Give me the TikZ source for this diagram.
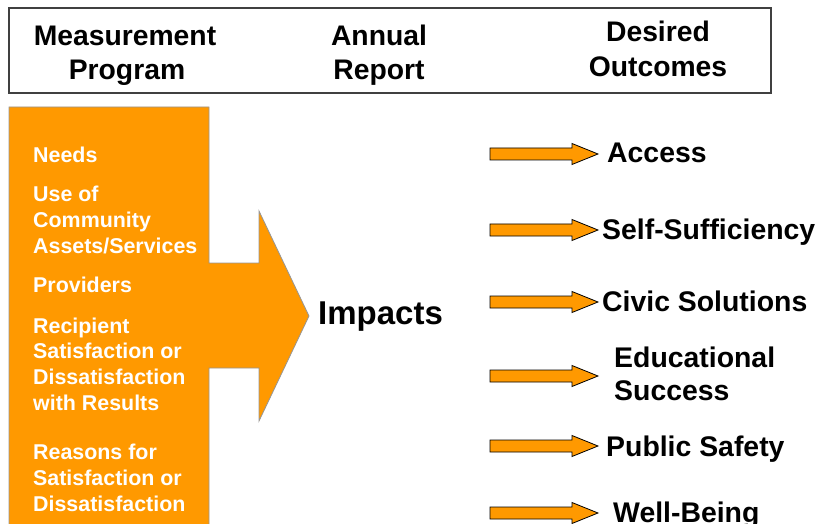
\documentclass[tikz,border=0pt]{standalone}
\usepackage{fontspec}
\setmainfont{Liberation Sans}
\definecolor{orng}{RGB}{255,153,0}
\definecolor{edgegray}{RGB}{150,150,150}
\definecolor{boxgray}{RGB}{64,64,64}
\begin{document}
\begin{tikzpicture}[x=1pt,y=-1pt,
  hdr/.style={font=\fontsize{28.3}{34}\selectfont\bfseries, anchor=base, inner sep=0},
  ol/.style={font=\fontsize{21.4}{25.5}\selectfont\bfseries, text=white, anchor=base west, inner sep=0},
  outc/.style={font=\fontsize{28.4}{33}\selectfont\bfseries, anchor=base west, inner sep=0},
  smallarrow/.style={fill=orng, draw=black, line width=0.8pt, line join=miter}]
\useasboundingbox (0,0) rectangle (820,524);
% header
\draw[boxgray, line width=1.5pt] (9,8) rectangle (771,93);
\node[hdr] (h1a) at (125,46) {Measurement};
\node[hdr] (h1b) at (127,80) {Program};
\node[hdr] (h2a) at (379,46) {Annual};
\node[hdr] (h2b) at (379,80) {Report};
\node[hdr] (h3a) at (658,42) {Desired};
\node[hdr] (h3b) at (658,77) {Outcomes};
% big orange shape
\fill[orng] (9,107) -- (209,107) -- (209,263) -- (259,263) -- (259,211) -- (309,316)
  -- (259,421) -- (259,368) -- (209,368) -- (209,524) -- (9,524) -- cycle;
\draw[edgegray, line width=0.8pt] (9,524) -- (9,107) -- (209,107) -- (209,263) -- (259,263) -- (259,211) -- (309,316)
  -- (259,421) -- (259,368) -- (209,368) -- (209,524);
\node[ol] (t1) at (33,163) {Needs};
\node[ol] (t2a) at (33,202) {Use of};
\node[ol] (t2b) at (33,228) {Community};
\node[ol] (t2c) at (33,253) {Assets/Services};
\node[ol] (t3) at (33,292) {Providers};
\node[ol] (t4a) at (33,333) {Recipient};
\node[ol] (t4b) at (33,358) {Satisfaction or};
\node[ol] (t4c) at (33,384) {Dissatisfaction};
\node[ol] (t4d) at (33,410) {with Results};
\node[ol] (t5a) at (33,459) {Reasons for};
\node[ol] (t5b) at (33,485) {Satisfaction or};
\node[ol] (t5c) at (33,511) {Dissatisfaction};
% impacts
\node[font=\fontsize{33}{38}\selectfont\bfseries, anchor=base west, inner sep=0] (imp) at (318,324) {Impacts};
% small arrows
\foreach \yy in {154,230,302,376,446,513}{
  \draw[smallarrow] (490,\yy-6) -- (572,\yy-6) -- (572,\yy-10.5) -- (598,\yy) -- (572,\yy+10.5) -- (572,\yy+6) -- (490,\yy+6) -- cycle;
}
% outcomes
\node[outc] (o1) at (607,163) {Access};
\node[outc] (o2) at (602,240) {Self-Sufficiency};
\node[outc] (o3) at (602,311) {Civic Solutions};
\node[outc] (o4a) at (614,367) {Educational};
\node[outc] (o4b) at (614,400) {Success};
\node[outc] (o5) at (606,456) {Public Safety};
\node[outc] (o6) at (613,522) {Well-Being};
\end{tikzpicture}
\end{document}
